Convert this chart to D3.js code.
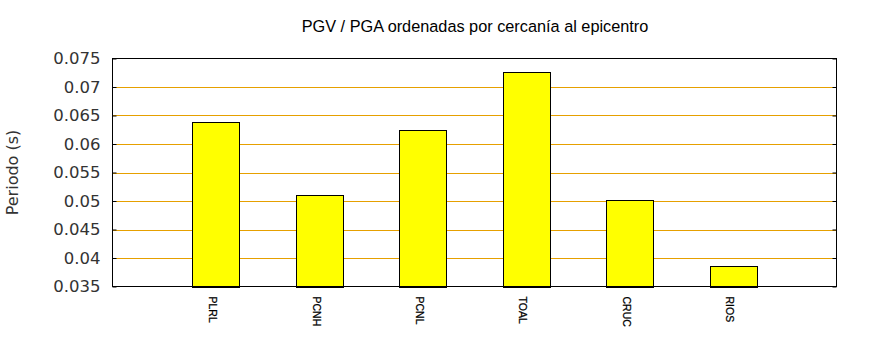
<!DOCTYPE html>
<html>
<head>
<meta charset="utf-8">
<script src="https://cdn.jsdelivr.net/npm/d3@7"></script>
<style>
  html, body { margin: 0; padding: 0; background: #fff; }
  svg { display: block; }
</style>
</head>
<body>
<svg id="chart" width="870" height="350"></svg>
<script>
// Stations ordered by distance to the epicentre, with their period values
const stations = ["PLRL", "PCNH", "PCNL", "TOAL", "CRUC", "RIOS"];
const periods = [0.0638, 0.0510, 0.0625, 0.0727, 0.0502, 0.0386];
const yTicks = [0.035, 0.04, 0.045, 0.05, 0.055, 0.06, 0.065, 0.07, 0.075];
const yTickLabels = ["0.035", "0.04", "0.045", "0.05", "0.055", "0.06", "0.065", "0.07", "0.075"];
const titleText = "PGV / PGA ordenadas por cercanía al epicentro";
const yTitle = "Periodo (s)";

const svg = d3.select("#chart");
const m = { left: 112.5, right: 836.5, top: 58.5, bottom: 286.5 };
const W = m.right - m.left, H = m.bottom - m.top;

// Slot positions 0..7, stations sit at 1..6
const x = d3.scaleLinear().domain([0, stations.length + 1]).range([m.left, m.right]);
const y = d3.scaleLinear().domain([0.035, 0.075]).range([m.bottom, m.top]);
const boxW = 0.455;

// Grid lines
svg.append("g").selectAll("line")
  .data(yTicks.slice(1, -1))
  .join("line")
  .attr("x1", m.left).attr("x2", m.right)
  .attr("y1", d => Math.round(y(d)) + 0.5).attr("y2", d => Math.round(y(d)) + 0.5)
  .attr("stroke", "#e6a000").attr("stroke-width", 1);

// Bars
svg.append("g").selectAll("rect")
  .data(periods)
  .join("rect")
  .attr("x", (d, i) => Math.round(x(i + 1 - boxW / 2)) + 0.5)
  .attr("width", (d, i) => Math.round(x(i + 1 + boxW / 2)) - Math.round(x(i + 1 - boxW / 2)))
  .attr("y", d => Math.round(y(d)) + 0.5)
  .attr("height", d => Math.round(m.bottom) - Math.round(y(d)))
  .attr("fill", "#ffff00")
  .attr("stroke", "#000")
  .attr("stroke-width", 1);

// Frame
svg.append("rect")
  .attr("x", m.left).attr("y", m.top).attr("width", W).attr("height", H)
  .attr("fill", "none").attr("stroke", "#000").attr("stroke-width", 1);

// Y axis (left) with inward ticks
const yAxisL = d3.axisLeft(y).tickValues(yTicks)
  .tickFormat((d, i) => yTickLabels[i]).tickSizeInner(-4).tickSizeOuter(0).tickPadding(12);
const gL = svg.append("g").attr("transform", `translate(${m.left},0)`).call(yAxisL);
gL.select(".domain").remove();
gL.selectAll(".tick line").attr("stroke", "#000");
gL.selectAll(".tick text")
  .attr("font-family", "'DejaVu Sans', sans-serif")
  .attr("font-size", 16.5).attr("fill", "#333");

// Y axis (right) mirrored ticks
const yAxisR = d3.axisRight(y).tickValues(yTicks).tickSizeInner(-4).tickSizeOuter(0).tickFormat("");
const gR = svg.append("g").attr("transform", `translate(${m.right},0)`).call(yAxisR);
gR.select(".domain").remove();
gR.selectAll(".tick line").attr("stroke", "#000");

// X labels, rotated
svg.append("g").selectAll("text")
  .data(stations)
  .join("text")
  .attr("transform", (d, i) => `translate(${x(i + 1) - 4},${m.bottom + 10}) rotate(90)`)
  .attr("font-family", "'Liberation Sans', Arial, sans-serif")
  .attr("font-size", 10.5)
  .attr("fill", "#000")
  .attr("stroke", "#000").attr("stroke-width", 0.25)
  .attr("dominant-baseline", "middle")
  .text(d => d);

// Title
svg.append("text")
  .attr("x", (m.left + m.right) / 2 + 0.5).attr("y", 32)
  .attr("text-anchor", "middle")
  .attr("font-family", "'Liberation Sans', Arial, sans-serif")
  .attr("font-size", 16.3).attr("fill", "#000")
  .text(titleText);

// Y axis title
svg.append("text")
  .attr("transform", `translate(18,${(m.top + m.bottom) / 2}) rotate(-90)`)
  .attr("text-anchor", "middle")
  .attr("font-family", "'DejaVu Sans', sans-serif")
  .attr("font-size", 16).attr("fill", "#333")
  .text(yTitle);
</script>
</body>
</html>
